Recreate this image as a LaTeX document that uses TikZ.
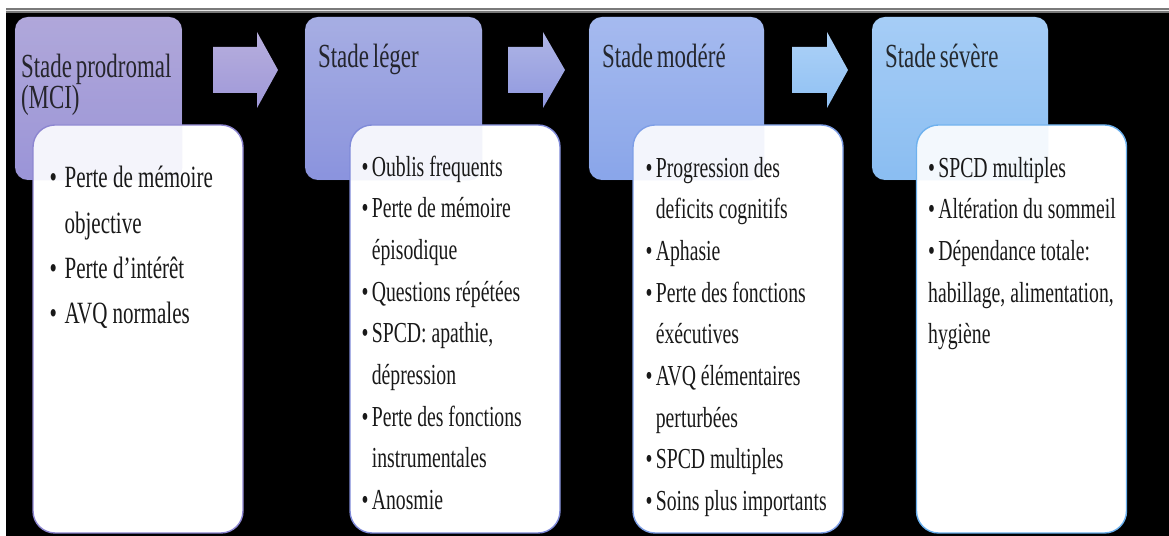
\documentclass[tikz,border=0pt]{standalone}
\usepackage{fontspec}
\setmainfont{Liberation Serif}[FakeStretch=0.68,WordSpace=0.68]
\usepackage{xcolor}
\usepackage{tikz}
\usetikzlibrary{positioning}
\definecolor{MCITop}{HTML}{B3AADB}
\definecolor{MCIBot}{HTML}{9B95D8}
\definecolor{MCILine}{HTML}{8C85D0}
\definecolor{LegTop}{HTML}{AAB1E4}
\definecolor{LegBot}{HTML}{8B94DE}
\definecolor{LegLine}{HTML}{7F8AD8}
\definecolor{ModTop}{HTML}{A9BDF0}
\definecolor{ModBot}{HTML}{8AA6EA}
\definecolor{ModLine}{HTML}{7D9EE6}
\definecolor{SevTop}{HTML}{A9CFF7}
\definecolor{SevBot}{HTML}{8BBEF2}
\definecolor{SevLine}{HTML}{6BB0EE}
\definecolor{FrameGray}{HTML}{7A7A7A}
\newlength{\bulletgap}
\setlength{\bulletgap}{5.8pt}
\newcommand{\headstrut}{\rule{0pt}{14pt}}
\newcommand{\stageitem}[1]{\par\spaceskip=0.17em\relax\hangindent=\bulletgap\hangafter=1\noindent\makebox[\bulletgap][l]{\textbullet}\strut#1}
\begin{document}
\begin{tikzpicture}[x=1cm,y=1cm,
  stagehead/.style={rectangle, rounded corners=0.26cm, minimum height=3.26cm, inner sep=0pt},
  stagebox/.style={rectangle, rounded corners=0.44cm, fill=white, line width=0.8pt, minimum width=4.20cm, minimum height=8.16cm, inner sep=0pt},
  headtext/.style={inner sep=0pt, align=left, text=black!90, font=\fontsize{19.2pt}{17.6pt}\selectfont},
  bodytext/.style={inner sep=0pt, text width=4.3cm, align=left, text=black!90, font=\fontsize{16.5pt}{23.7pt}\selectfont}]
\path[use as bounding box] (0,0) rectangle (23.38,10.72);
% background and top frame line
\fill[white] (0,0) rectangle (23.38,10.72);
\fill[black] (0.12,0) rectangle (23.38,10.46);
\fill[FrameGray] (0.12,10.46) rectangle (23.38,10.56);
\draw[white!80!gray, line width=0.4pt] (0.12,10.51) -- (23.38,10.51);
% stage headers
\node[stagehead, top color=MCITop, bottom color=MCIBot, minimum width=3.34cm] (h1) at (1.97,8.75) {};
\node[stagehead, top color=LegTop, bottom color=LegBot, minimum width=3.54cm] (h2) at (7.87,8.75) {};
\node[stagehead, top color=ModTop, bottom color=ModBot, minimum width=3.50cm] (h3) at (13.53,8.75) {};
\node[stagehead, top color=SevTop, bottom color=SevBot, minimum width=3.52cm] (h4) at (19.20,8.75) {};
% block arrows
\shade[top color=MCITop!95!white, bottom color=MCIBot!85!MCITop] (4.26,9.78) -- (5.14,9.78) -- (5.14,10.08) -- (5.56,9.32) -- (5.14,8.56) -- (5.14,8.86) -- (4.26,8.86) -- cycle;
\shade[top color=LegTop!95!white, bottom color=LegBot!85!LegTop] (10.16,9.78) -- (10.86,9.78) -- (10.86,10.08) -- (11.30,9.32) -- (10.86,8.56) -- (10.86,8.86) -- (10.16,8.86) -- cycle;
\shade[top color=SevTop!95!white, bottom color=SevBot!85!SevTop] (15.84,9.78) -- (16.54,9.78) -- (16.54,10.08) -- (16.96,9.32) -- (16.54,8.56) -- (16.54,8.86) -- (15.84,8.86) -- cycle;
% header titles
\node[headtext, below right=0.71cm and 0.12cm of h1.north west] (ht1) {\headstrut Stade prodromal\\(MCI)};
\node[headtext, below right=0.52cm and 0.26cm of h2.north west] (ht2) {\headstrut Stade léger};
\node[headtext, below right=0.52cm and 0.26cm of h3.north west] (ht3) {\headstrut Stade modéré};
\node[headtext, below right=0.52cm and 0.26cm of h4.north west] (ht4) {\headstrut Stade sévère};
% white boxes
\node[stagebox, draw=MCILine] (w1) at (2.76,4.14) {};
\node[stagebox, draw=LegLine] (w2) at (9.10,4.14) {};
\node[stagebox, draw=ModLine] (w3) at (14.76,4.14) {};
\node[stagebox, draw=SevLine] (w4) at (20.43,4.14) {};
% light tint where the boxes cover the headers
\fill[MCIBot, fill opacity=0.1, rounded corners=0.26cm] (h1.south west) rectangle (h1.north east);
\fill[LegBot, fill opacity=0.1, rounded corners=0.26cm] (h2.south west) rectangle (h2.north east);
\fill[ModBot, fill opacity=0.1, rounded corners=0.26cm] (h3.south west) rectangle (h3.north east);
\fill[SevBot, fill opacity=0.1, rounded corners=0.26cm] (h4.south west) rectangle (h4.north east);
% bullet lists
\node[bodytext, font=\fontsize{17.6pt}{25.8pt}\selectfont, below right=0.36cm and 0.34cm of w1.north west] (t1) {\setlength{\bulletgap}{8.5pt}%
\stageitem{Perte de mémoire\newline objective}
\stageitem{Perte d’intérêt}
\stageitem{AVQ normales}};
\node[bodytext, below right=0.20cm and 0.24cm of w2.north west] (t2) {%
\stageitem{Oublis frequents}
\stageitem{Perte de mémoire\newline épisodique}
\stageitem{Questions répétées}
\stageitem{SPCD: apathie,\newline dépression}
\stageitem{Perte des fonctions\newline instrumentales}
\stageitem{Anosmie}};
\node[bodytext, below right=0.22cm and 0.26cm of w3.north west] (t3) {%
\stageitem{Progression des\newline deficits cognitifs}
\stageitem{Aphasie}
\stageitem{Perte des fonctions\newline éxécutives}
\stageitem{AVQ élémentaires\newline perturbées}
\stageitem{SPCD multiples}
\stageitem{Soins plus importants}};
\node[bodytext, below right=0.22cm and 0.24cm of w4.north west] (t4) {%
\stageitem{SPCD multiples}
\stageitem{Altération du sommeil}
\stageitem{Dépendance totale:\newline habillage, alimentation,\newline hygiène}};
\end{tikzpicture}
\end{document}
